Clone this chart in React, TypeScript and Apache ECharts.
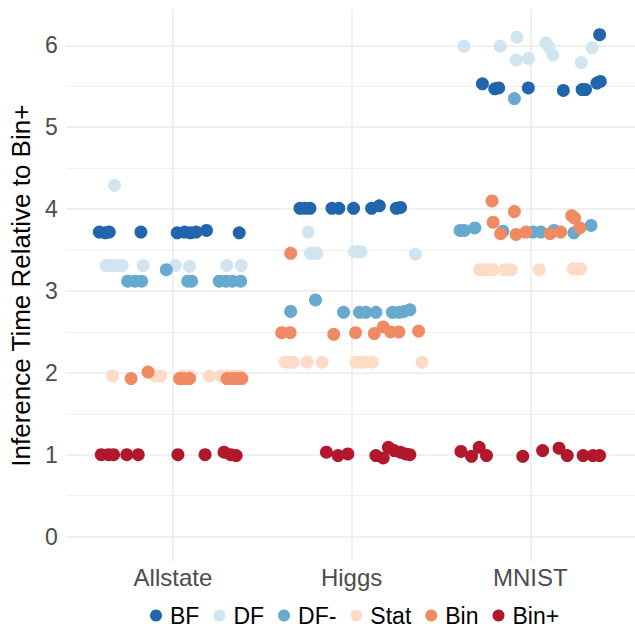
import React, { useEffect, useRef } from "react";
import * as echarts from "echarts";

const categories = ["Allstate", "Higgs", "MNIST"];
const seriesNames = ["BF", "DF", "DF-", "Stat", "Bin", "Bin+"];
const seriesColors = ["#2166AC", "#D1E5F0", "#67A9CF", "#FDDBC7", "#EF8A62", "#B2182B"];
const yTicks = [0, 1, 2, 3, 4, 5, 6];
const yMinorTicks = [0.5, 1.5, 2.5, 3.5, 4.5, 5.5];
const yTitle = "Inference Time Relative to Bin+";

// each point: [category index, horizontal jitter, value]
const bfPoints = [
  [0, -0.412, 3.72], [0, -0.378, 3.71], [0, -0.356, 3.72], [0, -0.179, 3.72], [0, 0.024, 3.71],
  [0, 0.065, 3.72], [0, 0.098, 3.71], [0, 0.13, 3.72], [0, 0.188, 3.74], [0, 0.371, 3.71],
  [1, -0.289, 4.01], [1, -0.261, 4.01], [1, -0.233, 4.01], [1, -0.11, 4.01], [1, -0.071, 4.01],
  [1, 0.011, 4.01], [1, 0.112, 4.01], [1, 0.155, 4.04], [1, 0.25, 4.01], [1, 0.274, 4.02],
  [2, -0.268, 5.53], [2, -0.199, 5.47], [2, -0.177, 5.48], [2, -0.011, 5.48], [2, 0.185, 5.45],
  [2, 0.29, 5.46], [2, 0.309, 5.46], [2, 0.373, 5.54], [2, 0.392, 5.56], [2, 0.388, 6.13],
];
const dfPoints = [
  [0, -0.327, 4.29], [0, -0.373, 3.31], [0, -0.345, 3.31], [0, -0.312, 3.31], [0, -0.284, 3.31],
  [0, -0.166, 3.31], [0, 0.013, 3.31], [0, 0.093, 3.3], [0, 0.301, 3.31], [0, 0.382, 3.31],
  [1, -0.243, 3.72], [1, -0.23, 3.46], [1, -0.21, 3.46], [1, -0.195, 3.46], [1, 0.016, 3.48],
  [1, 0.034, 3.48], [1, 0.053, 3.48], [1, 0.357, 3.45],
  [2, -0.371, 5.99], [2, -0.168, 5.99], [2, -0.075, 6.1], [2, -0.079, 5.82], [2, -0.011, 5.84],
  [2, 0.087, 6.03], [2, 0.105, 5.98], [2, 0.127, 5.88], [2, 0.286, 5.79], [2, 0.346, 5.97],
];
const dfMinusPoints = [
  [0, -0.253, 3.12], [0, -0.212, 3.12], [0, -0.175, 3.12], [0, -0.037, 3.26], [0, 0.083, 3.12],
  [0, 0.105, 3.12], [0, 0.259, 3.12], [0, 0.296, 3.12], [0, 0.332, 3.12], [0, 0.379, 3.12],
  [1, -0.341, 2.75], [1, -0.202, 2.89], [1, -0.045, 2.74], [1, 0.044, 2.74], [1, 0.08, 2.74],
  [1, 0.136, 2.74], [1, 0.228, 2.74], [1, 0.265, 2.74], [1, 0.293, 2.75], [1, 0.326, 2.77],
  [2, -0.393, 3.74], [2, -0.369, 3.74], [2, -0.31, 3.77], [2, -0.153, 3.73], [2, -0.089, 5.35],
  [2, 0.015, 3.72], [2, 0.059, 3.72], [2, 0.133, 3.74], [2, 0.244, 3.71], [2, 0.34, 3.8],
];
const statPoints = [
  [0, -0.338, 1.96], [0, -0.099, 1.96], [0, -0.068, 1.96], [0, 0.054, 1.96], [0, 0.098, 1.96],
  [0, 0.203, 1.96], [0, 0.268, 1.96], [0, 0.309, 1.96], [0, 0.342, 1.96], [0, 0.375, 1.96],
  [1, -0.372, 2.13], [1, -0.35, 2.13], [1, -0.326, 2.13], [1, -0.248, 2.13], [1, -0.165, 2.13],
  [1, 0.025, 2.13], [1, 0.048, 2.13], [1, 0.071, 2.13], [1, 0.117, 2.13], [1, 0.394, 2.13],
  [2, -0.283, 3.26], [2, -0.262, 3.26], [2, -0.236, 3.26], [2, -0.208, 3.26], [2, -0.144, 3.26],
  [2, -0.107, 3.26], [2, 0.05, 3.26], [2, 0.24, 3.27], [2, 0.259, 3.27], [2, 0.281, 3.27],
];
const binPoints = [
  [0, -0.234, 1.93], [0, -0.139, 2.01], [0, 0.037, 1.93], [0, 0.048, 1.93], [0, 0.065, 1.93],
  [0, 0.093, 1.93], [0, 0.303, 1.93], [0, 0.331, 1.93], [0, 0.358, 1.93], [0, 0.386, 1.93],
  [1, -0.341, 3.46], [1, -0.391, 2.49], [1, -0.344, 2.49], [1, -0.1, 2.47], [1, 0.022, 2.49],
  [1, 0.127, 2.48], [1, 0.177, 2.56], [1, 0.219, 2.5], [1, 0.265, 2.5], [1, 0.375, 2.51],
  [2, -0.214, 4.1], [2, -0.089, 3.97], [2, -0.208, 3.84], [2, -0.166, 3.7], [2, -0.079, 3.69],
  [2, -0.024, 3.72], [2, 0.111, 3.7], [2, 0.17, 3.72], [2, 0.232, 3.92], [2, 0.248, 3.89],
  [2, 0.277, 3.77],
];
const binPlusPoints = [
  [0, -0.401, 1.0], [0, -0.36, 1.0], [0, -0.332, 1.0], [0, -0.258, 1.0], [0, -0.194, 1.0],
  [0, 0.028, 1.0], [0, 0.18, 1.0], [0, 0.286, 1.03], [0, 0.324, 1.0], [0, 0.354, 0.99],
  [1, -0.141, 1.03], [1, -0.076, 0.99], [1, -0.021, 1.01], [1, 0.136, 0.99], [1, 0.177, 0.96],
  [1, 0.206, 1.09], [1, 0.238, 1.05], [1, 0.273, 1.03], [1, 0.302, 1.01], [1, 0.326, 1.0],
  [2, -0.388, 1.04], [2, -0.329, 0.98], [2, -0.286, 1.09], [2, -0.245, 0.99], [2, -0.042, 0.98],
  [2, 0.069, 1.05], [2, 0.161, 1.08], [2, 0.207, 0.99], [2, 0.296, 0.99], [2, 0.351, 0.99],
  [2, 0.388, 0.99],
];
const allPoints = [bfPoints, dfPoints, dfMinusPoints, statPoints, binPoints, binPlusPoints];

const FONT = "'Liberation Sans', Arial, Helvetica, sans-serif";

export default function App() {
  const ref = useRef<HTMLDivElement>(null);
  useEffect(() => {
    if (!ref.current) return;
    const chart = echarts.init(ref.current, null, { renderer: "svg" });
    const gridColor = "#EBEBEB";
    const markData: any[] = [];
    yMinorTicks.forEach((v) =>
      markData.push({ yAxis: v, lineStyle: { color: gridColor, width: 0.8, type: "solid" } })
    );
    yTicks.forEach((v) =>
      markData.push({ yAxis: v, lineStyle: { color: gridColor, width: 1.5, type: "solid" } })
    );
    categories.forEach((_, i) =>
      markData.push({ xAxis: i, lineStyle: { color: gridColor, width: 1.5, type: "solid" } })
    );

    const series: any[] = [
      {
        type: "scatter",
        name: "__grid",
        data: [],
        silent: true,
        markLine: {
          silent: true,
          z: 0,
          symbol: ["none", "none"],
          label: { show: false },
          data: markData,
        },
      },
    ];
    seriesNames.forEach((name, i) => {
      series.push({
        type: "scatter",
        name,
        symbol: "circle",
        symbolSize: 13,
        itemStyle: { color: seriesColors[i], opacity: 1 },
        data: allPoints[i].map((p) => [p[0] + p[1], p[2]]),
        z: 2,
      });
    });

    chart.setOption({
      animation: false,
      backgroundColor: "#ffffff",
      textStyle: { fontFamily: FONT },
      grid: { left: 60, right: 0, top: 9.6, bottom: 67.3 },
      xAxis: {
        type: "value",
        min: -0.6,
        max: 2.586,
        axisLine: { show: false },
        axisTick: { show: false },
        splitLine: { show: false },
        axisLabel: {
          customValues: [0, 1, 2],
          formatter: (v: number) => categories[Math.round(v)] ?? "",
          fontSize: 24,
          color: "#4D4D4D",
          margin: 4,
          fontFamily: FONT,
        },
      },
      yAxis: {
        type: "value",
        min: -0.307,
        max: 6.437,
        axisLine: { show: false },
        axisTick: { show: false },
        splitLine: { show: false },
        axisLabel: {
          customValues: yTicks,
          fontSize: 23,
          color: "#4D4D4D",
          margin: 8,
          fontFamily: FONT,
        },
        name: yTitle,
        nameLocation: "middle",
        nameGap: 24,
        nameTextStyle: { fontSize: 26, color: "#000000", fontFamily: FONT },
      },
      legend: {
        data: seriesNames,
        left: 150,
        top: 604,
        padding: 0,
        icon: "circle",
        itemWidth: 12,
        itemHeight: 12,
        itemGap: 14,
        textStyle: {
          fontSize: 23,
          lineHeight: 22,
          color: "#000000",
          fontFamily: FONT,
          padding: [0, 0, 0, 3],
        },
      },
      series,
    });
    return () => chart.dispose();
  }, []);
  return (
    <div
      ref={ref}
      style={{ position: "fixed", left: 0, top: 0, width: 635, height: 629, background: "#fff" }}
    />
  );
}
